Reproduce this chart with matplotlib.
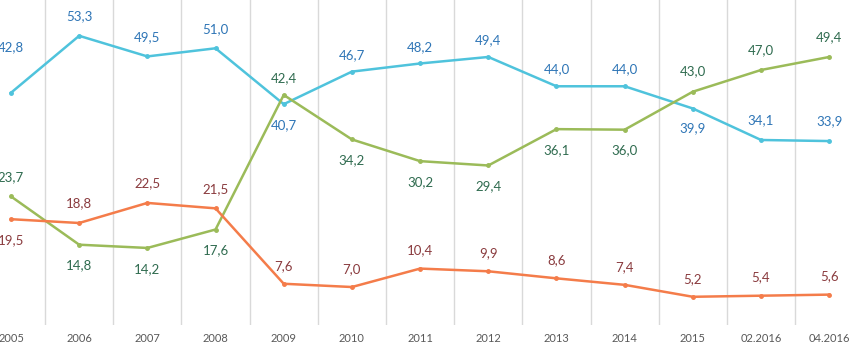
import matplotlib
matplotlib.use("Agg")
import matplotlib.pyplot as plt

plt.rcParams['font.family'] = ['Lato', 'DejaVu Sans']

categories = ['2005', '2006', '2007', '2008', '2009', '2010', '2011', '2012',
              '2013', '2014', '2015', '02.2016', '04.2016']
blue = [42.8, 53.3, 49.5, 51.0, 40.7, 46.7, 48.2, 49.4, 44.0, 44.0, 39.9, 34.1, 33.9]
green = [23.7, 14.8, 14.2, 17.6, 42.4, 34.2, 30.2, 29.4, 36.1, 36.0, 43.0, 47.0, 49.4]
orange = [19.5, 18.8, 22.5, 21.5, 7.6, 7.0, 10.4, 9.9, 8.6, 7.4, 5.2, 5.4, 5.6]

# label offsets in points (positive = above)
blue_off = [33, 14, 14, 14, -15, 12, 12, 12, 12, 12, -14, 14, 14]
green_off = [14, -15, -15, -15, 12, -15, -15, -15, -15, -15, 15, 14, 14]
orange_off = [-15, 14, 14, 14, 13, 13, 13, 13, 13, 13, 13, 13, 13]

fig = plt.figure(figsize=(8.49, 3.43), dpi=100)
ax = fig.add_axes([0, 18 / 343, 1, 325 / 343])

x = list(range(len(categories)))
series = [
    (blue, blue_off, '#4fc3dc', '#2e75b6'),
    (green, green_off, '#9bbb59', '#2f6b4f'),
    (orange, orange_off, '#f47c4a', '#8a3b3e'),
]
for vals, offs, lc, tc in series:
    ax.plot(x, vals, color=lc, lw=1.8, marker='o', ms=2.5, zorder=3)
    for xi, v, o in zip(x, vals, offs):
        ax.annotate(f"{v:.1f}".replace('.', ','), (xi, v), xytext=(0, o),
                    textcoords='offset points', ha='center', va='center',
                    fontsize=9.5, color=tc)

for i in range(len(categories) - 1):
    ax.axvline(i + 0.5, color='#d9d9d9', lw=1, zorder=1)

ax.set_xlim(-0.161, 12.29)
ax.set_ylim(0, 59.9)
ax.set_xticks(x)
ax.set_xticklabels(categories, fontsize=8, color='#595959')
ax.tick_params(axis='x', length=0, pad=6)
ax.set_yticks([])
for s in ax.spines.values():
    s.set_visible(False)

fig.savefig('out.png', dpi=100)
